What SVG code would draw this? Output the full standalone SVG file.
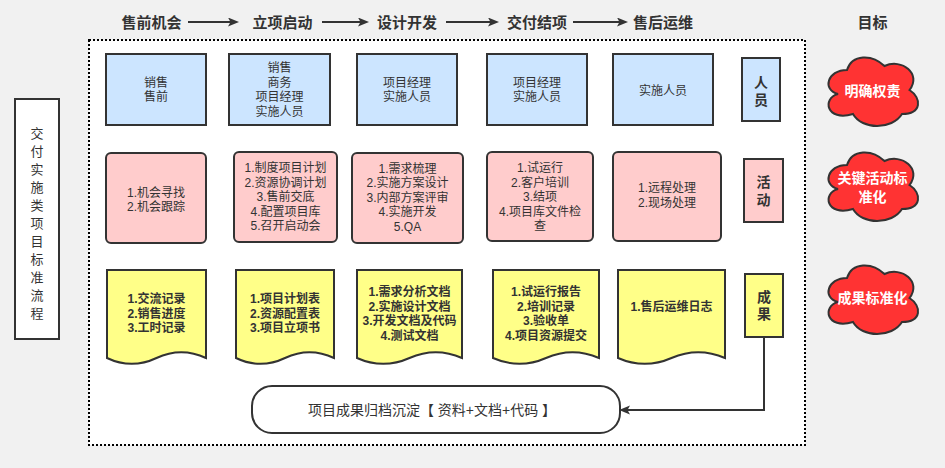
<svg xmlns="http://www.w3.org/2000/svg" xmlns:xlink="http://www.w3.org/1999/xlink" width="945" height="468" viewBox="0 0 945 468">
<defs>
<style>
text{font-family:"Liberation Sans","Noto Sans CJK SC",sans-serif;fill:#333;text-anchor:middle;dominant-baseline:central}
.hd{font-size:15px;font-weight:bold}
.n{font-size:12px}
.b{font-size:12px;font-weight:bold}
.lb{font-size:14px;font-weight:bold}
.cl{font-size:14px;font-weight:bold;fill:#fff}
.blue{fill:#cce5ff;stroke:#333;stroke-width:2}
.pink{fill:#ffcccc;stroke:#333;stroke-width:2}
.yel{fill:#ffff88;stroke:#333;stroke-width:2}
.cloud{fill:#ff3333;stroke:#333;stroke-width:2}
.ln{fill:none;stroke:#333;stroke-width:2}
</style>
<marker id="ah" markerUnits="userSpaceOnUse" markerWidth="12" markerHeight="10" refX="5" refY="4.5" orient="auto">
<path d="M0,0 L11,4.5 L0,9 L2.5,4.5 Z" fill="#333"/>
</marker>
<path id="cloudShape" d="M25,20 C5,20 0,40 16,44 C0,48 4,72 31,64 C40,80 70,80 80,64 C100,64 100,48 87.5,40 C100,24 80,8 62.5,16 C50,4 30,4 25,20 Z"/>
</defs>
<rect x="0" y="0" width="945" height="468" fill="#f1f1f1"/>
<rect id="frame" x="89" y="40" width="716" height="405" fill="#fff" stroke="#000" stroke-width="2" stroke-dasharray="2 2"/>

<g id="header">
<text class="hd" x="151.5" y="22">售前机会</text>
<text class="hd" x="282.5" y="22">立项启动</text>
<text class="hd" x="407" y="22">设计开发</text>
<text class="hd" x="537" y="22">交付结项</text>
<text class="hd" x="663" y="22">售后运维</text>
<text class="hd" x="872.5" y="22">目标</text>
</g>

<g id="connectors">
<line class="ln" x1="188" y1="22" x2="233" y2="22" marker-end="url(#ah)"/>
<line class="ln" x1="322" y1="22" x2="363" y2="22" marker-end="url(#ah)"/>
<line class="ln" x1="446" y1="22" x2="493" y2="22" marker-end="url(#ah)"/>
<line class="ln" x1="573" y1="22" x2="622" y2="22" marker-end="url(#ah)"/>
<path class="ln" d="M764,337 L764,410 L625,410" marker-end="url(#ah)"/>
</g>

<g id="title">
<rect x="15" y="99" width="44" height="240" fill="#fff" stroke="#333" stroke-width="2"/>
<text style="font-size:13px" x="37" y="133">交</text>
<text style="font-size:13px" x="37" y="151">付</text>
<text style="font-size:13px" x="37" y="169">实</text>
<text style="font-size:13px" x="37" y="187">施</text>
<text style="font-size:13px" x="37" y="205">类</text>
<text style="font-size:13px" x="37" y="223">项</text>
<text style="font-size:13px" x="37" y="241">目</text>
<text style="font-size:13px" x="37" y="259">标</text>
<text style="font-size:13px" x="37" y="277">准</text>
<text style="font-size:13px" x="37" y="295">流</text>
<text style="font-size:13px" x="37" y="313">程</text>
</g>

<g id="role1"><rect class="blue" x="106" y="54" width="100" height="71"/>
<text class="n" x="156" y="82.7">销售</text><text class="n" x="156" y="97.3">售前</text></g>
<g id="role2"><rect class="blue" x="229" y="54" width="101" height="71"/>
<text class="n" x="279.5" y="68.3">销售</text><text class="n" x="279.5" y="82.7">商务</text><text class="n" x="279.5" y="97.3">项目经理</text><text class="n" x="279.5" y="111.7">实施人员</text></g>
<g id="role3"><rect class="blue" x="357" y="54" width="100" height="71"/>
<text class="n" x="407" y="82.7">项目经理</text><text class="n" x="407" y="97.3">实施人员</text></g>
<g id="role4"><rect class="blue" x="487" y="54" width="100" height="71"/>
<text class="n" x="537" y="82.7">项目经理</text><text class="n" x="537" y="97.3">实施人员</text></g>
<g id="role5"><rect class="blue" x="613" y="54" width="100" height="71"/>
<text class="n" x="663" y="90.5">实施人员</text></g>
<g id="labelRole"><rect class="blue" x="742" y="58" width="38" height="63"/>
<text class="lb" x="761" y="81.5">人</text><text class="lb" x="761" y="100">员</text></g>

<g id="act1"><rect class="pink" x="106" y="153" width="100" height="90" rx="5"/>
<text class="n" x="156" y="192.7">1.机会寻找</text><text class="n" x="156" y="206.7">2.机会跟踪</text></g>
<g id="act2"><rect class="pink" x="234" y="152" width="103" height="90" rx="5"/>
<text class="n" x="285.5" y="168">1.制度项目计划</text><text class="n" x="285.5" y="182.5">2.资源协调计划</text><text class="n" x="285.5" y="197">3.售前交底</text><text class="n" x="285.5" y="211.5">4.配置项目库</text><text class="n" x="285.5" y="226">5.召开启动会</text></g>
<g id="act3"><rect class="pink" x="352" y="153" width="111" height="90" rx="5"/>
<text class="n" x="407.5" y="168.5">1.需求梳理</text><text class="n" x="407.5" y="183">2.实施方案设计</text><text class="n" x="407.5" y="197.5">3.内部方案评审</text><text class="n" x="407.5" y="212">4.实施开发</text><text class="n" x="407.5" y="226.5">5.QA</text></g>
<g id="act4"><rect class="pink" x="487" y="152" width="106" height="89" rx="5"/>
<text class="n" x="540" y="168">1.试运行</text><text class="n" x="540" y="182.5">2.客户培训</text><text class="n" x="540" y="197">3.结项</text><text class="n" x="540" y="211.5">4.项目库文件检</text><text class="n" x="540" y="226">查</text></g>
<g id="act5"><rect class="pink" x="613" y="152" width="108" height="89" rx="5"/>
<text class="n" x="667" y="188">1.远程处理</text><text class="n" x="667" y="203">2.现场处理</text></g>
<g id="labelAct"><rect class="pink" x="744" y="159" width="39" height="63"/>
<text class="lb" x="763.5" y="181.7">活</text><text class="lb" x="763.5" y="200">动</text></g>

<g id="doc1"><path class="yel" d="M107,270 L206,270 L206,358 Q181.25,346.3 156.5,358 Q131.75,369.7 107,358 Z"/>
<text class="b" x="156.5" y="299">1.交流记录</text><text class="b" x="156.5" y="313.5">2.销售进度</text><text class="b" x="156.5" y="328">3.工时记录</text></g>
<g id="doc2"><path class="yel" d="M236,270 L334,270 L334,358 Q309.5,346.3 285,358 Q260.5,369.7 236,358 Z"/>
<text class="b" x="285" y="299">1.项目计划表</text><text class="b" x="285" y="313.5">2.资源配置表</text><text class="b" x="285" y="328">3.项目立项书</text></g>
<g id="doc3"><path class="yel" d="M357,270 L462,270 L462,358 Q435.75,346.3 409.5,358 Q383.25,369.7 357,358 Z"/>
<text class="b" x="409.5" y="292">1.需求分析文档</text><text class="b" x="409.5" y="306.5">2.实施设计文档</text><text class="b" x="409.5" y="321">3.开发文档及代码</text><text class="b" x="409.5" y="335.5">4.测试文档</text></g>
<g id="doc4"><path class="yel" d="M493,270 L599,270 L599,358 Q572.5,346.3 546,358 Q519.5,369.7 493,358 Z"/>
<text class="b" x="546" y="292">1.试运行报告</text><text class="b" x="546" y="306.5">2.培训记录</text><text class="b" x="546" y="321">3.验收单</text><text class="b" x="546" y="335.5">4.项目资源提交</text></g>
<g id="doc5"><path class="yel" d="M618,270 L725,270 L725,358 Q698.25,346.3 671.5,358 Q644.75,369.7 618,358 Z"/>
<text class="b" x="671.5" y="307">1.售后运维日志</text></g>
<g id="labelRes"><rect class="yel" x="745" y="274" width="38" height="63"/>
<text class="lb" x="764" y="296.7">成</text><text class="lb" x="764" y="314.3">果</text></g>

<g id="archive"><rect x="252" y="386" width="368" height="47" rx="20" fill="#fff" stroke="#333" stroke-width="2"/>
<text style="font-size:14px" x="432" y="410">项目成果归档沉淀【 资料+文档+代码 】</text></g>

<g id="goal1"><use xlink:href="#cloudShape" class="cloud" x="822" y="50"/>
<text class="cl" x="872.5" y="91">明确权责</text></g>
<g id="goal2"><use xlink:href="#cloudShape" class="cloud" x="822" y="145"/>
<text class="cl" x="872.5" y="178">关键活动标</text><text class="cl" x="872.5" y="197">准化</text></g>
<g id="goal3"><use xlink:href="#cloudShape" class="cloud" x="822" y="258"/>
<text class="cl" x="872.5" y="298">成果标准化</text></g>
</svg>
